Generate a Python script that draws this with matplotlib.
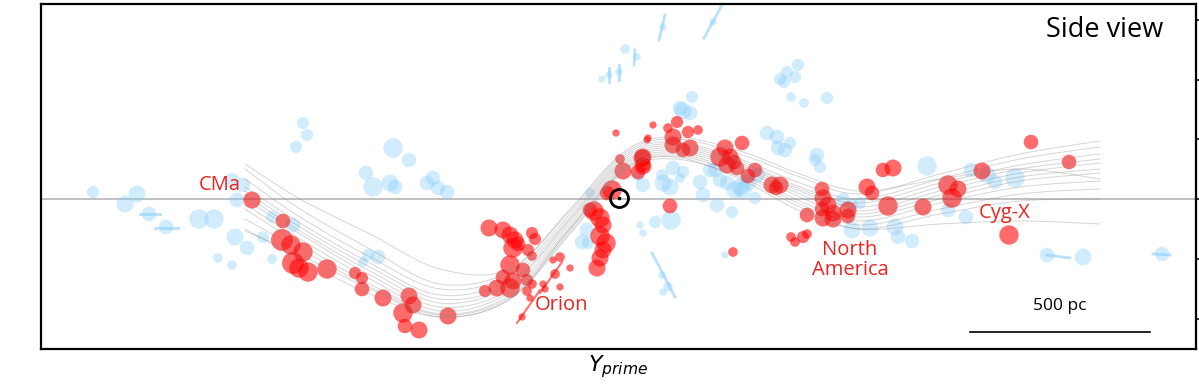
import numpy as np
import matplotlib
matplotlib.use("Agg")
import matplotlib.pyplot as plt

# plot units: 1 unit ~ 1 px of the original figure, 180 units = 500 pc
# x = Y_prime relative to the Sun, z = height above the midplane

# red: clouds that belong to the wave (x, z, radius)
red_x = [-368, -337, -338, -329, -317, -327, -321, -312, -293, -265, -258, -258, -237, -211, -207, -217, -215, -201, -172,
         -131, -117, -110, -105, -107, -102, -88, -85, -92, -88, -110, -97, -117, -107, -110, -123, -135, -93, -88, -93,
         -77, -75, -67, -60, -50, -65, -60, -90, -98,
         -8, -13, -30, -26, -20, -17, -20, -14, -17, -20, -23, 0, 3, 22, 23, 18, -4, 33, 27, 50,
         57, 48, 53, 68, 78, 53, 70, 63, 28, 23, 23, 105, 100, 110, 107, 114, 122, 117, 135, 128, 152, 160, 156,
         202, 203, 208, 202, 213, 213, 228, 228, 187, 203, 171, 175, 183, 187, 113,
         263, 273, 247, 252, 268, 303, 328, 338, 332, 362, 411, 449, 389]
red_z = [-1, -22, -41, -46, -53, -64, -69, -73, -70, -74, -79, -90, -99, -97, -106, -114, -127, -131, -117,
         -29, -31, -36, -41, -49, -45, -34, -40, -51, -57, -66, -71, -78, -82, -89, -89, -92, -81, -85, -92,
         -85, -90, -61, -58, -69, -75, -88, -99, -118,
         9, 6, -11, -12, -19, -26, -37, -44, -51, -59, -69, 40, 28, 41, 33, 27, 66, 74, 59, -7,
         77, 71, 62, 67, 69, 54, 51, 49, 61, 42, 34, 51, 42, 42, 34, 37, 56, 31, 29, 23, 14, 14, 11,
         10, 1, -6, -10, -14, -20, -11, -17, -16, -19, -38, -43, -38, -35, -53,
         29, 31, 12, 6, -7, -8, 14, 10, 1, 28, 57, 37, -36]
red_r = [7, 6, 9, 8, 8, 9, 8, 8, 8, 5, 5, 6, 7, 7, 7, 8, 6, 7, 7,
         7, 7, 7, 7, 8, 6, 5, 5, 5, 4, 8, 6, 6, 7, 8, 7, 5, 5, 4, 4,
         3, 3, 3, 4, 3, 4, 3, 3, 3,
         8, 6, 6, 8, 8, 7, 8, 8, 7, 7, 7, 4, 7, 7, 7, 6, 3, 3, 3, 6,
         5, 4, 7, 5, 4, 7, 7, 6, 3, 7, 6, 7, 8, 7, 7, 6, 6, 6, 6, 6, 7, 7, 6,
         6, 7, 7, 6, 7, 7, 7, 6, 6, 7, 4, 4, 5, 4, 4,
         6, 7, 7, 6, 8, 7, 8, 7, 8, 7, 6, 6, 8]

# blue: clouds off the wave
blue_x = [-527, -495, -483, -471, -454, -421, -406, -388, -377, -383, -385, -373, -402, -388, -357, -348, -348, -327,
          -317, -313, -324, -227, -211, -254, -247, -230, -225, -193, -187, -182, -173, -252, -242, -257,
          -30, -33, -38, -32, 20, 23, 53, 63, 42, 60, 18, 23, 43, 50, 80, 83, 95, 97, 51, 35,
          60, 70, 72, 63, 5, 17, -1, -11, -18, 43, 93, 42, 48, 43,
          178, 167, 175, 160, 164, 171, 184, 207, 147, 157, 170, 158, 165, 197, 195, 200,
          90, 112, 135, 100, 107, 120, 128, 138, 115, 123,
          223, 232, 240, 232, 250, 275, 278, 292, 307, 351, 367, 375, 395, 328, 346, 427, 463, 542, 105]
blue_z = [7, -5, 5, -15, -28, -20, -20, 19, 14, -1, -38, -49, -59, -66, -38, -18, -60, -26,
          76, 64, 52, 51, 39, 26, 12, 16, 12, 16, 21, 11, 7, -56, -58, -63,
          6, -31, -43, -44, -26, -34, 31, 27, 24, 21, 24, 14, 16, 12, 17, 4, 29, -6, -21, -23,
          91, 86, 102, 88, 150, 142, 127, 124, 120, 172, 177, -76, -88, -93,
          134, 127, 122, 120, 117, 102, 96, 101, 66, 62, 56, 51, 49, 44, 39, 32,
          29, -13, 1, 19, 16, 12, 17, 24, 9, 9,
          -1, -6, -4, -31, -29, -28, -38, -42, 33, 29, 24, 17, 21, -11, -18, -56, -58, -55, -56]
blue_r = [5, 7, 7, 6, 6, 8, 8, 6, 6, 6, 7, 6, 4, 4, 5, 5, 4, 6,
          5, 5, 5, 8, 6, 6, 8, 7, 6, 6, 6, 6, 6, 5, 6, 4,
          4, 6, 6, 5, 3, 3, 6, 5, 5, 4, 5, 6, 7, 7, 6, 6, 6, 6, 8, 5,
          6, 6, 5, 7, 4, 3, 3, 3, 3, 3, 3, 3, 4, 3,
          5, 5, 5, 5, 5, 4, 4, 5, 6, 6, 5, 6, 6, 6, 5, 5,
          6, 5, 5, 6, 6, 7, 7, 6, 7, 7,
          6, 5, 5, 7, 7, 7, 6, 6, 8, 6, 7, 6, 8, 6, 6, 6, 7, 6, 3]

# elongated error bars (x0, z0, x1, z1)
blue_bars = [(32, -54, 55, -98), (45, 184, 39, 159), (102, 194, 84, 161), (15, 149, 14, 134),
             (-1, 134, -1, 119), (-11, 131, -11, 117), (-480, -15, -460, -15), (-465, -29, -442, -29),
             (427, -56, 450, -59), (533, -55, 550, -56)]
red_bars = [(-103, -124, -80, -91), (-80, -94, -58, -63)]

# wave model realisations, sampled on a common x grid
wave_x = [-375, -320, -250, -180, -110, -50, 5, 55, 120, 180, 240, 320, 400, 480]
wave_lines = [
    [30, -10, -50, -85, -72, -12, 46, 60, 45, 22, 5, 25, 45, 58],
    [20, -18, -58, -90, -76, -15, 44, 57, 40, 16, 0, 20, 40, 52],
    [12, -24, -64, -96, -80, -18, 42, 55, 38, 12, -4, 16, 34, 45],
    [8, -28, -68, -100, -84, -20, 40, 53, 36, 10, -8, 12, 30, 40],
    [4, -32, -72, -104, -86, -22, 38, 51, 34, 8, -12, 8, 26, 36],
    [0, -35, -76, -108, -90, -25, 36, 49, 32, 5, -15, 4, 22, 30],
    [-5, -40, -80, -112, -93, -28, 34, 47, 30, 2, -18, 0, 18, 26],
    [-10, -45, -85, -115, -96, -30, 32, 45, 27, -2, -22, -4, 12, 18],
    [-20, -50, -88, -116, -98, -33, 30, 43, 25, -5, -26, -10, 5, 10],
    [-32, -56, -90, -118, -100, -35, 28, 40, 22, -8, -30, -15, -2, 0],
    [35, 0, -35, -70, -70, -10, 48, 62, 48, 25, 8, 20, 30, 20],
    [-30, -60, -95, -118, -100, -30, 30, 42, 20, -12, -30, -25, -22, -25],
]

labels = ["CMa", "Orion", "North\nAmerica", "Cyg-X"]
label_x = [-400, -58, 230, 385]
label_z = [14, -106, -61, -14]

sun_x, sun_z = -1, 1
scale_len = 180  # units for 500 pc


def smooth(xs, ys, n=24):
    pts = np.column_stack([xs, ys]).astype(float)
    p = np.vstack([pts[0], pts, pts[-1]])
    t = np.linspace(0, 1, n, endpoint=False)[:, None]
    out = []
    for i in range(1, len(p) - 2):
        p0, p1, p2, p3 = p[i - 1], p[i], p[i + 1], p[i + 2]
        out.append(0.5 * (2 * p1 + (-p0 + p2) * t + (2 * p0 - 5 * p1 + 4 * p2 - p3) * t ** 2
                          + (-p0 + 3 * p1 - 3 * p2 + p3) * t ** 3))
    out.append(pts[-1:])
    return np.vstack(out)


fig = plt.figure(figsize=(11.99, 3.87), dpi=100)
ax = fig.add_axes([41 / 1199, 1 - 349 / 387, 1155 / 1199, 345 / 387])

ax.axhline(0, color="#bbbbbb", lw=1.3, zorder=1)

ax.scatter(blue_x, blue_z, s=(1.75 * np.array(blue_r)) ** 2, color="#87cefa", alpha=0.38,
           edgecolors="none", zorder=2)
for x0, z0, x1, z1 in blue_bars:
    ax.plot([x0, x1], [z0, z1], color="#87cefa", alpha=0.6, lw=2, zorder=2)

ax.scatter(red_x, red_z, s=(1.75 * np.array(red_r)) ** 2, color="red", alpha=0.58,
           edgecolors="none", zorder=3)
for x0, z0, x1, z1 in red_bars:
    ax.plot([x0, x1], [z0, z1], color="red", alpha=0.55, lw=1.5, zorder=3)

for line in wave_lines:
    xy = smooth(wave_x, line)
    ax.plot(xy[:, 0], xy[:, 1], color="#888888", alpha=0.35, lw=0.7, zorder=4)

ax.plot(sun_x, sun_z, "o", ms=13, mfc="none", mec="black", mew=2, zorder=6)
ax.plot(sun_x, sun_z, "s", ms=2, color="black", zorder=6)

for txt, lx, lz in zip(labels, label_x, label_z):
    ax.text(lx, lz, txt, color="#e8251f", fontsize=14.5, ha="center", va="center",
            family="Open Sans", linespacing=1.05, zorder=7)

ax.text(543, 169, "Side view", fontsize=19.5, ha="right", va="center", family="Open Sans")
ax.plot([350, 350 + scale_len], [-133, -133], color="black", lw=1.2)
ax.text(350 + scale_len / 2, -107, "500 pc", fontsize=12.5, ha="center", va="center", family="Open Sans")

ax.set_xlim(-579, 576)
ax.set_ylim(-150, 195)
ax.set_xticks([])
ax.yaxis.tick_right()
ax.set_yticks([-120, -60, 0, 60, 119, 179])
ax.set_yticklabels([])
ax.tick_params(axis="y", length=5, width=1.2, direction="out")
for sp in ax.spines.values():
    sp.set_linewidth(1.6)
ax.set_xlabel(r"$Y_{prime}$", fontsize=16, labelpad=3)

fig.savefig("out.png", dpi=100)
